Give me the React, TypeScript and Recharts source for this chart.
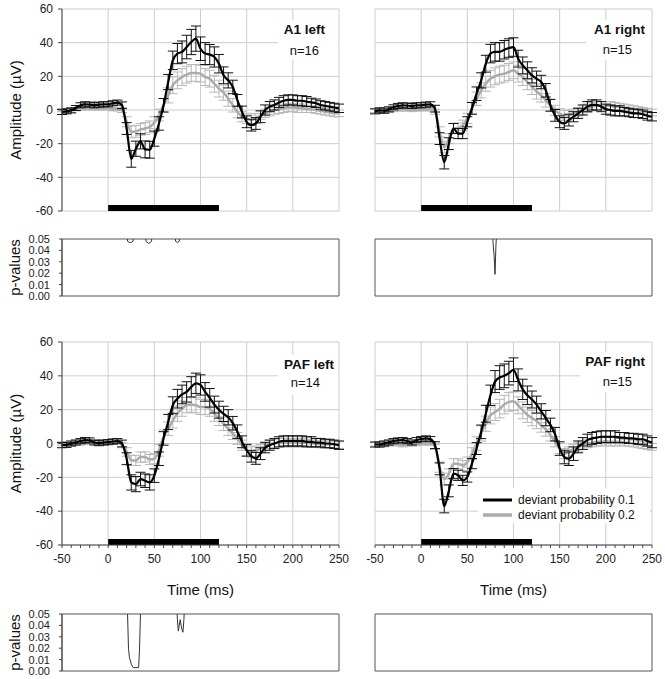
import React from 'react'
import { LineChart, Line, XAxis, YAxis, CartesianGrid, ErrorBar, ReferenceArea, Legend } from 'recharts'

const FONT = '"Liberation Sans", Arial, sans-serif'

// sample times (ms)
const times = [-50, -45, -40, -35, -30, -25, -20, -15, -10, -5, 0, 5, 10, 15, 20, 25, 30, 35, 40, 45, 50, 55, 60, 65, 70, 75, 80, 85, 90, 95, 100, 105, 110, 115, 120, 125, 130, 135, 140, 145, 150, 155, 160, 165, 170, 175, 180, 185, 190, 195, 200, 205, 210, 215, 220, 225, 230, 235, 240, 245, 250]

const gridTimes = [-50, 0, 50, 100, 150, 200, 250]
const minorTimes = [-50, -40, -30, -20, -10, 0, 10, 20, 30, 40, 50, 60, 70, 80, 90, 100, 110, 120, 130, 140, 150, 160, 170, 180, 190, 200, 210, 220, 230, 240, 250]
const ampTicks = [-60, -40, -20, 0, 20, 40, 60]
const pTicks = [0, 0.01, 0.02, 0.03, 0.04, 0.05]
const stimulus = [0, 120]

// A1 left
const a1LeftDev01 = [-1.2, -0.8, -0.2, 1.2, 2.8, 3.4, 3.2, 2.8, 3.2, 3.4,
  3.4, 4, 4.4, 2.8, -11, -29, -23, -18.6, -23.4, -23.6,
  -17, -8, 2.8, 16.6, 29.5, 33.5, 34.5, 37.4, 40.4, 42.4,
  36.4, 33.5, 32.9, 31.5, 27.5, 20.6, 17.6, 13.7, 5.7, -1.2,
  -7, -9, -8, -4, 0, 2, 3, 4.5, 5.5, 6,
  6, 5.5, 5.5, 5, 4.5, 4, 3, 2.5, 2, 1.5,
  1]
const a1LeftDev01Err = [1.5, 1.5, 1.5, 1.5, 1.5, 1.5, 1.5, 1.5, 1.5, 1.5,
  1.5, 1.5, 1.5, 2, 3.5, 5, 4.5, 4.5, 5, 5,
  4.5, 4, 4, 4.5, 5.5, 6, 6.5, 7, 7.5, 7.5,
  7, 6.5, 6, 6, 5.5, 5, 4.5, 4, 3.5, 3.5,
  3.5, 3.5, 3.5, 3.5, 3, 3, 3, 3, 3, 3,
  3, 3, 3, 3, 2.5, 2.5, 2.5, 2.5, 2.5, 2.5,
  2.5]
const a1LeftDev02 = [0, -0.8, -0.5, 0.5, 1, 1, 1, 1, 1, 1,
  1, 0.5, 0.5, 0, -7, -13, -12.7, -11.5, -11, -10,
  -7.5, -3, 2.8, 8.7, 14.7, 17.6, 19.6, 21, 22, 22,
  21.6, 19.6, 18.6, 15.6, 12.7, 10.3, 6.7, 2.8, -1.2, -4,
  -5, -6, -5, -3, -2, -1, 0, 0.5, 1, 1.5,
  1.5, 1, 1, 0.5, 0.5, 0, -0.5, -1, -1.5, -2,
  -2]
const a1LeftDev02Err = [1, 1, 1, 1, 1, 1, 1, 1, 1, 1,
  1, 1, 1, 1.5, 3, 3.5, 3.5, 3.5, 3.5, 3.5,
  3.5, 3.5, 4, 4.5, 5, 5, 5, 5, 5, 5,
  5, 5, 5, 5, 5, 4.5, 4.5, 4, 3.5, 3,
  3, 3, 3, 2.5, 2.5, 2.5, 2.5, 2.5, 2.5, 2.5,
  2.5, 2.5, 2.5, 2, 2, 2, 2, 2, 2, 2,
  2]

// A1 right
const a1RightDev01 = [-0.8, -0.2, -0.4, 0.4, 1.6, 2.4, 2.8, 2.6, 2.4, 2.8,
  2.8, 3.2, 3.4, 0.8, -17, -31, -20, -11, -14, -14,
  -7, 1, 9.7, 17.6, 27.5, 33.5, 34.5, 34.5, 35.8, 36.8,
  37.4, 30.5, 26.5, 23.6, 20.6, 18.6, 16.6, 11.7, 2.8, -3.2,
  -7, -8, -6, -4, -2, 0, 2, 3, 3, 2,
  0.5, 0, -0.5, -0.5, -1, -1.5, -2, -2, -2.5, -3.5,
  -4]
const a1RightDev01Err = [1.5, 1.5, 1.5, 1.5, 1.5, 1.5, 1.5, 1.5, 1.5, 1.5,
  1.5, 1.5, 1.5, 2, 3.5, 4, 3.5, 3, 3, 3,
  3, 3.5, 4, 4.5, 5, 5.5, 5.5, 5.5, 5.5, 5.5,
  5.5, 5, 5, 5, 4.5, 4.5, 4, 4, 3.5, 3.5,
  3.5, 3.5, 3.5, 3, 3, 3, 3, 3, 3, 3,
  3, 3, 3, 3, 2.5, 2.5, 2.5, 2.5, 2.5, 2.5,
  2.5]
const a1RightDev02 = [-0.5, -0.8, -1, -0.5, 0, 0.3, 0.5, 0.3, 0, 0.3,
  0.5, 0.5, 0.5, -1, -13, -22, -17, -11, -10.7, -9,
  -5, 1, 6.7, 11.7, 15.6, 18.6, 20, 21, 21.6, 22.6,
  23.6, 21.6, 19.6, 16.6, 13.7, 11, 8.7, 5.7, 2.8, -0.2,
  -2.2, -3.2, -3, -2, -1, 0, 1, 2, 2.5, 2.5,
  2.5, 2.5, 2, 2, 1.5, 1, 0.5, 0, -0.5, -1,
  -1.5]
const a1RightDev02Err = [1, 1, 1, 1, 1, 1, 1, 1, 1, 1,
  1, 1, 1, 1.5, 3, 3.5, 3, 3, 3, 3,
  3, 3.5, 4, 4.5, 4.5, 5, 5, 5, 5, 5,
  5, 5, 5, 4.5, 4.5, 4.5, 4, 4, 3.5, 3,
  3, 3, 3, 2.5, 2.5, 2.5, 2.5, 2.5, 2.5, 2.5,
  2.5, 2.5, 2.5, 2, 2, 2, 2, 2, 2, 2,
  2]

// PAF left
const pafLeftDev01 = [-1, -0.8, 0, 0.6, 1.4, 2, 1.8, 0.6, 0.2, 0.6,
  0.8, 1.2, 1.4, 0, -9, -23, -24, -21, -22, -23,
  -19, -9, 3, 12.7, 22.6, 26.5, 29, 30.5, 33.5, 35.6,
  34.6, 30.5, 27, 23, 20, 17.5, 15.5, 12, 7, 1,
  -4, -7.5, -8.8, -6, -2.5, -1, 0, 1, 1.5, 1.5,
  1.5, 1.5, 1.5, 1, 1, 0.5, 0.5, 0, 0, -0.5,
  -1]
const pafLeftDev01Err = [1.5, 1.5, 1.5, 1.5, 1.5, 1.5, 1.5, 1.5, 1.5, 1.5,
  1.5, 1.5, 1.5, 2, 3.5, 4.5, 4.5, 4, 4, 4.5,
  4, 4, 4, 4.5, 5, 5.5, 5.5, 6, 6, 6,
  6, 5.5, 5.5, 5, 5, 4.5, 4.5, 4, 4, 3.5,
  3.5, 3.5, 3.5, 3.5, 3, 3, 3, 3, 3, 3,
  3, 3, 3, 3, 3, 2.5, 2.5, 2.5, 2.5, 2.5,
  2.5]
const pafLeftDev02 = [0, -0.3, -0.5, 0, 0, 0.5, 0.5, 0.5, 0.5, 0.5,
  0.5, 0.5, 1, -1, -5, -10, -10, -8, -8, -9.5,
  -9, -4, 4, 8.7, 13.7, 17.6, 20.6, 22.6, 23, 22.6,
  21.6, 21.6, 20.6, 17.6, 14.6, 11.7, 8.7, 5.8, 3, -1,
  -4, -5, -4.5, -3, -1.5, -0.5, 0, 0.5, 0.5, 0.5,
  0.5, 0.5, 0.5, 0.5, 0, 0, -0.5, -0.5, -0.5, -0.5,
  -1]
const pafLeftDev02Err = [1, 1, 1, 1, 1, 1, 1, 1, 1, 1,
  1, 1, 1, 1.5, 2.5, 3, 3, 3, 3, 3,
  3, 3.5, 4, 4, 4.5, 4.5, 4.5, 4.5, 4.5, 4.5,
  4.5, 4.5, 4.5, 4.5, 4, 4, 4, 3.5, 3.5, 3,
  3, 3, 3, 2.5, 2.5, 2.5, 2.5, 2.5, 2.5, 2.5,
  2.5, 2.5, 2.5, 2, 2, 2, 2, 2, 2, 2,
  2]

// PAF right
const pafRightDev01 = [-0.6, -0.6, 0, 0.6, 1.4, 1.8, 2, 1.4, 0.6, 2,
  2.6, 3, 2.6, -1, -15, -37, -28, -17.8, -18.8, -21.8,
  -19.8, -11.9, -3, 6.9, 17.6, 28.5, 36.6, 39, 40, 41.6,
  43.6, 37.6, 32, 28.5, 26, 23, 19, 15, 11, 5.5,
  -3, -8, -9, -6, -2, 0, 2, 3, 3.5, 4,
  4, 4, 4, 3.5, 3.5, 3, 3, 2.5, 2.5, 1.5,
  0.5]
const pafRightDev01Err = [1.5, 1.5, 1.5, 1.5, 1.5, 1.5, 1.5, 1.5, 1.5, 1.5,
  1.5, 1.5, 1.5, 2, 3.5, 4, 3.5, 3, 3, 3,
  3, 3, 3.5, 4, 5, 6, 6.5, 7, 7, 7,
  7, 6.5, 6, 5.5, 5, 5, 4.5, 4.5, 4, 4,
  4, 4, 4, 4, 3.5, 3.5, 3.5, 3.5, 3.5, 3.5,
  3.5, 3.5, 3.5, 3, 3, 3, 3, 3, 3, 3,
  3]
const pafRightDev02 = [-0.5, -0.8, -1, -0.5, 0, -0.5, -1, -0.5, -0.5, -0.3,
  0, 0, 0, -2, -14, -21, -18, -12, -12, -13,
  -11, -6, 0, 6, 11.7, 16.6, 18.6, 20.6, 23, 24.6,
  25, 22.6, 19.6, 17, 15, 13.3, 10.7, 8.3, 5, 1,
  -3, -6, -5, -3, -2, -1, 0, 0.5, 1, 1,
  1.5, 1, 1, 1, 0.5, 0.5, 0, -0.5, -1, -1.5,
  -2]
const pafRightDev02Err = [1, 1, 1, 1, 1, 1, 1, 1, 1, 1,
  1, 1, 1, 1.5, 3, 3.5, 3, 3, 3, 3,
  3, 3.5, 4, 4.5, 4.5, 5, 5, 5.5, 5.5, 5.5,
  5.5, 5, 5, 4.5, 4.5, 4.5, 4, 4, 3.5, 3,
  3, 3, 3, 2.5, 2.5, 2.5, 2.5, 2.5, 2.5, 2.5,
  2.5, 2.5, 2.5, 2, 2, 2, 2, 2, 2, 2,
  2]

// p-values (only around the significant windows; above 0.05 is clipped)
const pA1LeftTimes = [20, 21, 23, 25, 27, 28, 40, 41, 44, 47, 48, 72, 73, 75, 77, 78]
const pA1LeftValues = [0.06, 0.048, 0.047, 0.047, 0.048, 0.06, 0.06, 0.048, 0.046, 0.048, 0.06, 0.06, 0.048, 0.047, 0.048, 0.06]
const pA1RightTimes = [77, 78, 79, 80, 81, 82]
const pA1RightValues = [0.06, 0.045, 0.035, 0.019, 0.045, 0.06]
const pPafLeftTimes = [20, 21, 22, 23, 25, 27, 30, 33, 34, 35, 36, 74, 75, 76, 77, 78, 79, 80, 81, 82, 83]
const pPafLeftValues = [0.06, 0.05, 0.02, 0.012, 0.006, 0.003, 0.003, 0.003, 0.02, 0.05, 0.06, 0.06, 0.045, 0.035, 0.04, 0.045, 0.04, 0.036, 0.034, 0.045, 0.06]
const pPafRightTimes: number[] = []
const pPafRightValues: number[] = []

const erpRows = (b: number[], be: number[], g: number[], ge: number[]) =>
  times.map((t, i) => ({ t, b: b[i], be: be[i], g: g[i], ge: ge[i] }))
const pRows = (ts: number[], ps: number[]) => ts.map((t, i) => ({ t, p: ps[i] }))

const tickStyle = { fontSize: 12, fill: '#222', fontFamily: FONT }

function LegendBox({ payload }: any) {
  const items = [...(payload || [])].sort((a: any, b: any) => String(a.value).localeCompare(String(b.value)))
  return (
    <div style={{ background: '#fff', padding: '4px 0 0 5px', fontFamily: FONT, fontSize: 12, color: '#111' }}>
      {items.map((it: any) => (
        <div key={it.value} style={{ display: 'flex', alignItems: 'center', height: 15.5 }}>
          <svg width={29} height={6} style={{ marginRight: 6 }}>
            <line x1={0} y1={3} x2={29} y2={3} stroke={it.color} strokeWidth={it.value.endsWith('0.1') ? 3 : 3.5} />
          </svg>
          <span>{it.value}</span>
        </div>
      ))}
    </div>
  )
}

function ErpPanel({ left, top, rows, showY, showX, legend }: any) {
  const width = showY ? 355 : 320
  const height = showX ? 272 : 221
  const margin = showY
    ? { top: 9, right: 16, left: 0, bottom: showX ? 0 : 10 }
    : { top: 9, right: 13, left: 30, bottom: showX ? 0 : 10 }
  return (
    <div style={{ position: 'absolute', left, top }}>
      <LineChart width={width} height={height} data={rows} margin={margin}>
        <CartesianGrid stroke="#cdcdcd" verticalValues={gridTimes} horizontalValues={ampTicks} />
        <XAxis
          dataKey="t"
          type="number"
          domain={[-50, 250]}
          ticks={showX ? minorTimes : gridTimes}
          interval={0}
          hide={!showX}
          height={60}
          tickSize={3}
          tickMargin={6}
          tickFormatter={(v: number) => (v % 50 === 0 ? String(v) : '')}
          axisLine={{ stroke: '#444' }}
          tickLine={{ stroke: '#444' }}
          tick={tickStyle}
          label={showX ? { value: 'Time (ms)', position: 'insideBottom', offset: 10, style: { fontSize: 15, fill: '#111', fontFamily: FONT } } : undefined}
        />
        <YAxis
          type="number"
          domain={[-60, 60]}
          ticks={ampTicks}
          interval={0}
          hide={!showY}
          width={62}
          tickSize={4}
          tickMargin={5}
          axisLine={{ stroke: '#444' }}
          tickLine={{ stroke: '#444' }}
          tick={tickStyle}
          label={{ value: 'Amplitude (\u00b5V)', angle: -90, position: 'insideLeft', offset: 16, style: { textAnchor: 'middle', fontSize: 15, fill: '#111', fontFamily: FONT } }}
        />
        <ReferenceArea x1={stimulus[0]} x2={stimulus[1]} y1={-60} y2={-56.5} fill="#000" fillOpacity={1} stroke="none" />
        <Line dataKey="g" name="deviant probability 0.2" type="monotone" stroke="#ababab" strokeWidth={2.5} dot={false} isAnimationActive={false}>
          <ErrorBar dataKey="ge" width={5} stroke="#b8b8b8" strokeWidth={1} direction="y" isAnimationActive={false} />
        </Line>
        <Line dataKey="b" name="deviant probability 0.1" type="monotone" stroke="#000" strokeWidth={2.2} dot={false} isAnimationActive={false}>
          <ErrorBar dataKey="be" width={5} stroke="#111" strokeWidth={1} direction="y" isAnimationActive={false} />
        </Line>
        {legend && (
          <Legend
            layout="horizontal"
            verticalAlign="middle"
            align="center"
            wrapperStyle={{ left: 133, top: 155, width: 172, height: 40 }}
            content={LegendBox}
          />
        )}
      </LineChart>
    </div>
  )
}

function PPanel({ left, top, rows, showY }: any) {
  const width = showY ? 355 : 320
  const margin = showY ? { top: 9, right: 16, left: 0, bottom: 5 } : { top: 9, right: 13, left: 30, bottom: 5 }
  return (
    <div style={{ position: 'absolute', left, top }}>
      <LineChart width={width} height={71} data={rows} margin={margin}>
        <XAxis dataKey="t" type="number" domain={[-50, 250]} hide allowDataOverflow />
        <YAxis
          type="number"
          domain={[0, 0.05]}
          ticks={pTicks}
          interval={0}
          allowDataOverflow
          hide={!showY}
          width={62}
          tickSize={3}
          tickMargin={9}
          tickFormatter={(v: number) => v.toFixed(2)}
          axisLine={{ stroke: '#444' }}
          tickLine={{ stroke: '#444' }}
          tick={{ fontSize: 11, fill: '#222', fontFamily: FONT }}
          label={{ value: 'p-values', angle: -90, position: 'insideLeft', offset: 15, style: { textAnchor: 'middle', fontSize: 15, fill: '#111', fontFamily: FONT } }}
        />
        <ReferenceArea x1={-50} x2={250} y1={0} y2={0.05} fill="none" stroke="#555" strokeWidth={1} />
        <Line dataKey="p" type="linear" stroke="#333" strokeWidth={1} dot={false} isAnimationActive={false} />
      </LineChart>
    </div>
  )
}

function PanelTitle({ left, top, width, title, n, titlePad, nPad, nTop }: any) {
  return (
    <div style={{ position: 'absolute', left, top, width, height: 40, background: '#fff', fontFamily: FONT, color: '#111' }}>
      <div style={{ position: 'absolute', right: titlePad, top: 3, fontSize: 13.5, fontWeight: 'bold', lineHeight: 1, whiteSpace: 'nowrap' }}>{title}</div>
      <div style={{ position: 'absolute', right: nPad, top: nTop, fontSize: 13, lineHeight: 1, whiteSpace: 'nowrap' }}>{n}</div>
    </div>
  )
}

export default function App() {
  return (
    <div style={{ position: 'absolute', left: 0, top: 0, width: 665, height: 679, background: '#fff', overflow: 'hidden' }}>
      <ErpPanel left={0} top={0} rows={erpRows(a1LeftDev01, a1LeftDev01Err, a1LeftDev02, a1LeftDev02Err)} showY showX={false} />
      <ErpPanel left={345} top={0} rows={erpRows(a1RightDev01, a1RightDev01Err, a1RightDev02, a1RightDev02Err)} showY={false} showX={false} />
      <PPanel left={0} top={230} rows={pRows(pA1LeftTimes, pA1LeftValues)} showY />
      <PPanel left={345} top={230} rows={pRows(pA1RightTimes, pA1RightValues)} showY={false} />

      <ErpPanel left={0} top={333} rows={erpRows(pafLeftDev01, pafLeftDev01Err, pafLeftDev02, pafLeftDev02Err)} showY showX />
      <ErpPanel left={345} top={333} rows={erpRows(pafRightDev01, pafRightDev01Err, pafRightDev02, pafRightDev02Err)} showY={false} showX legend />
      <PPanel left={0} top={605} rows={pRows(pPafLeftTimes, pPafLeftValues)} showY />
      <PPanel left={345} top={605} rows={pRows(pPafRightTimes, pPafRightValues)} showY={false} />

      <PanelTitle left={278} top={20} width={60} title="A1 left" n="n=16" titlePad={13} nPad={19} nTop={24} />
      <PanelTitle left={586} top={20} width={65} title="A1 right" n="n=15" titlePad={6} nPad={19} nTop={23} />
      <PanelTitle left={278} top={355} width={60} title="PAF left" n="n=14" titlePad={4} nPad={18} nTop={21} />
      <PanelTitle left={580} top={352} width={71} title="PAF right" n="n=15" titlePad={6} nPad={19} nTop={23} />
    </div>
  )
}
